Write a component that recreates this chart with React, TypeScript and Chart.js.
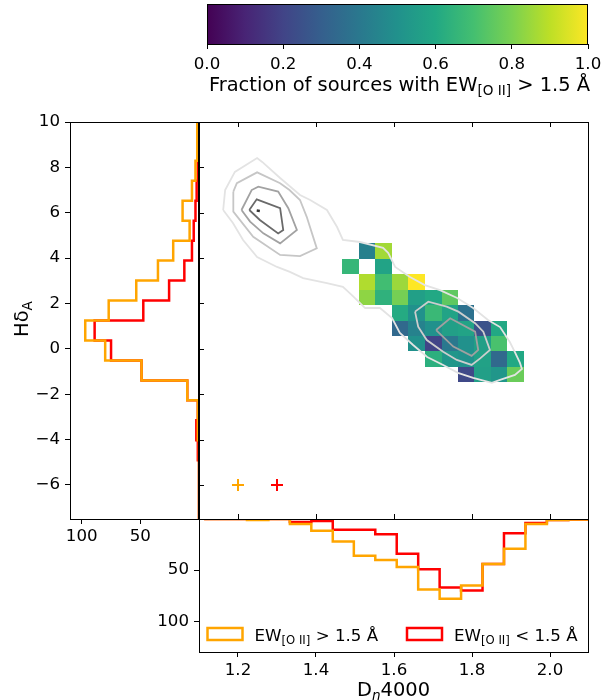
import React, { useEffect, useRef } from "react";
import { Chart, registerables } from "chart.js";

Chart.register(...registerables);

const W = 614;
const H = 700;
const FONT_FAMILY = "'DejaVu Sans', sans-serif";
const FONT_SIZE = 16.67;
const LABEL_SIZE = 19.44;
const COLOR_HIGH = "#ffa500";
const COLOR_LOW = "#ff0000";

// ---------- axes ----------
const dnLimits = [1.1, 2.1];
const hdLimits = [-7.5, 10];
const dnTicks = [1.2, 1.4, 1.6, 1.8, 2.0];
const hdTicks = [-6, -4, -2, 0, 2, 4, 6, 8, 10];
const leftCountTicks = [100, 50];
const leftCountMax = 110;
const bottomCountTicks = [50, 100];
const bottomCountMax = 130;
const cbarTicks = [0, 0.2, 0.4, 0.6, 0.8, 1.0];

// ---------- 1D histograms ----------
const hdEdges = [-7.55, -6.67, -5.79, -4.91, -4.03, -3.15, -2.27, -1.39, -0.51, 0.37, 1.25, 2.13, 3.01, 3.89, 4.77, 5.65, 6.53, 7.41, 8.29, 9.17, 10.05];
const hdCountsHigh = [0, 0, 0, 0, 1, 1, 10, 49, 80, 97, 77, 53.5, 35, 22, 8, 14, 6, 3, 1.5, 1.5];
const hdCountsLow = [0, 0, 0, 1, 2.3, 1, 10, 49, 75, 89, 47.5, 25.5, 12.5, 6, 4.5, 3, 2, 1, 1, 0.5];

const dnEdges = [1.113, 1.168, 1.223, 1.278, 1.333, 1.388, 1.443, 1.497, 1.552, 1.607, 1.662, 1.717, 1.772, 1.827, 1.882, 1.937, 1.992, 2.047, 2.102];
const dnCountsHigh = [0, 0, 1, 0, 5, 11.5, 22, 36, 40, 47, 69, 78, 65, 44, 29, 5, 1, 0.5];
const dnCountsLow = [0, 0, 0, 0, 3, 2, 10.5, 10.5, 15, 34, 49, 67, 70, 44, 14, 4, 1, 0.5];

// ---------- 2D fraction map ----------
const gridDnEdges = [1.467, 1.510, 1.552, 1.594, 1.637, 1.679, 1.722, 1.764, 1.806, 1.849, 1.891, 1.934];
const gridHdEdges = [4.653, 3.972, 3.291, 2.610, 1.929, 1.248, 0.567, -0.114, -0.795, -1.476];
const fractionGrid: (number | null)[][] = [
  [null, 0.43, 0.86, null, null, null, null, null, null, null, null],
  [0.66, null, 0.58, null, null, null, null, null, null, null, null],
  [null, 0.88, 0.69, 0.85, 1.0, null, null, null, null, null, null],
  [null, 0.83, 0.64, 0.79, 0.56, 0.6, 0.75, null, null, null, null],
  [null, null, null, 0.61, 0.5, 0.67, 0.58, 0.37, null, null, null],
  [null, null, null, 0.34, 0.44, 0.5, 0.56, 0.58, 0.25, 0.6, null],
  [null, null, null, null, 0.5, 0.2, 0.4, 0.5, 0.56, 0.71, null],
  [null, null, null, null, null, 0.63, 0.52, 0.5, 0.57, 0.34, 0.6],
  [null, null, null, null, null, null, null, 0.22, 0.56, 0.52, 0.77],
];

// ---------- density contours (Dn4000, HdA) ----------
const contourOuter = [
  [1.162, 6.12], [1.167, 7.0], [1.192, 7.8], [1.249, 8.41], [1.262, 8.24], [1.308, 7.53], [1.359, 6.78], [1.385, 6.56],
  [1.428, 6.12], [1.454, 5.37], [1.469, 4.8], [1.513, 4.71], [1.572, 4.45], [1.585, 4.23], [1.603, 3.61], [1.641, 3.17],
  [1.679, 2.81], [1.718, 2.59], [1.762, 2.24], [1.803, 1.8], [1.841, 1.27], [1.872, 0.96], [1.897, 0.3], [1.91, -0.14],
  [1.923, -0.62], [1.928, -0.89], [1.91, -1.15], [1.872, -1.37], [1.851, -1.5], [1.803, -1.28], [1.764, -1.06], [1.726, -0.71],
  [1.685, -0.36], [1.649, 0.17], [1.615, 0.7], [1.595, 1.36], [1.564, 1.8], [1.526, 1.8], [1.513, 2.02], [1.492, 2.37],
  [1.469, 2.73], [1.428, 2.9], [1.367, 3.12], [1.333, 3.39], [1.3, 3.61], [1.249, 4.05], [1.213, 4.8], [1.187, 5.55],
];
const contourTopLeft2 = [[1.188, 6.93], [1.197, 7.3], [1.249, 7.78], [1.308, 7.3], [1.332, 7.0], [1.359, 6.56], [1.376, 5.83], [1.402, 4.43], [1.359, 4.09], [1.308, 4.14], [1.239, 4.94], [1.188, 6.05]];
const contourTopLeft3 = [[1.209, 6.12], [1.235, 7.0], [1.252, 7.15], [1.303, 6.93], [1.329, 6.2], [1.351, 5.24], [1.308, 4.65], [1.265, 5.09], [1.231, 5.61]];
const contourTopLeft4 = [[1.229, 6.12], [1.248, 6.59], [1.308, 6.2], [1.316, 5.24], [1.303, 5.09], [1.256, 5.68]];
const contourTopLeft5 = [[1.248, 6.1], [1.256, 6.08]];
const contourRight2 = [[1.654, 1.64], [1.688, 2.08], [1.735, 1.86], [1.765, 1.64], [1.808, 1.13], [1.829, 0.76], [1.846, -0.05], [1.821, -0.42], [1.799, -0.71], [1.761, -0.49], [1.726, -0.13], [1.684, 0.39], [1.662, 0.98]];
const contourRight3 = [[1.708, 0.83], [1.744, 1.35], [1.808, 0.76], [1.816, -0.05], [1.799, -0.31], [1.752, 0.1]];

// typical-uncertainty crosses
const crossHigh = [{ x: 1.2, y: -6 }];
const crossLow = [{ x: 1.3, y: -6 }];

const legendRelations = [">", "<"];

const viridisStops = ["#440154", "#482475", "#414487", "#355f8d", "#2a788e", "#21918c", "#22a884", "#44bf70", "#7ad151", "#bddf26", "#fde725"];

function hexToRgb(h: string) {
  return [parseInt(h.slice(1, 3), 16), parseInt(h.slice(3, 5), 16), parseInt(h.slice(5, 7), 16)];
}
function viridis(t: number) {
  const v = Math.max(0, Math.min(1, t)) * (viridisStops.length - 1);
  const i = Math.min(Math.floor(v), viridisStops.length - 2);
  const f = v - i;
  const a = hexToRgb(viridisStops[i]);
  const b = hexToRgb(viridisStops[i + 1]);
  const c = a.map((ai, k) => Math.round(ai + (b[k] - ai) * f));
  return `rgb(${c[0]},${c[1]},${c[2]})`;
}

function stepAlongX(edges: number[], counts: number[]) {
  const pts = [{ x: edges[0], y: 0 }];
  counts.forEach((c, i) => {
    pts.push({ x: edges[i], y: c });
    pts.push({ x: edges[i + 1], y: c });
  });
  pts.push({ x: edges[edges.length - 1], y: 0 });
  return pts;
}
function stepAlongY(edges: number[], counts: number[]) {
  const pts = [{ x: 0, y: edges[0] }];
  counts.forEach((c, i) => {
    pts.push({ x: c, y: edges[i] });
    pts.push({ x: c, y: edges[i + 1] });
  });
  pts.push({ x: 0, y: edges[edges.length - 1] });
  return pts;
}
function closed(pts: number[][]) {
  const out = pts.map(([x, y]) => ({ x, y }));
  out.push({ x: pts[0][0], y: pts[0][1] });
  return out;
}

const fmtMinus = (v: number) => (v < 0 ? "\u2212" + Math.abs(v) : String(v));

const MAIN = { left: 199, top: 122, right: 589, bottom: 519 };
const LEFT = { left: 70, top: 122, right: 199, bottom: 519 };
const BOTTOM = { left: 199, top: 519, right: 589, bottom: 652 };
const CBAR = { left: 207, top: 4, right: 588, bottom: 44 };
// padding: when an axis sits on a side, the axis box itself takes that space
const pad = (r: any, leftAxis: boolean, bottomAxis: boolean) => ({
  left: leftAxis ? 0 : r.left,
  top: r.top,
  right: W - r.right,
  bottom: bottomAxis ? 0 : H - r.bottom,
});
const fixWidth = (w: number) => (s: any) => { s.width = w; };
const fixHeight = (h: number) => (s: any) => { s.height = h; };

const tickFont = { family: FONT_FAMILY, size: FONT_SIZE };
const baseOptions = {
  responsive: false,
  animation: false as const,
  devicePixelRatio: 1,
  plugins: { legend: { display: false }, tooltip: { enabled: false }, title: { display: false } },
  events: [] as any[],
};
const tickGrid = { display: true, drawOnChartArea: false, drawTicks: true, tickLength: 5, tickColor: "#000", tickWidth: 1, color: "#000" };
const setTicks = (vals: number[]) => (s: any) => { s.ticks = vals.map((v) => ({ value: v })); };

const framePlugin = {
  id: "frame",
  afterDatasetsDraw(chart: any) {
    const { ctx, chartArea: a } = chart;
    ctx.save();
    ctx.strokeStyle = "#000";
    ctx.lineWidth = 1;
    ctx.strokeRect(a.left + 0.5, a.top + 0.5, a.right - a.left - 1, a.bottom - a.top);
    ctx.restore();
  },
};

const cellsPlugin = {
  id: "cells",
  beforeDatasetsDraw(chart: any) {
    const { ctx } = chart;
    const xs = chart.scales.x;
    const ys = chart.scales.y;
    ctx.save();
    fractionGrid.forEach((row, j) =>
      row.forEach((f, i) => {
        if (f == null) return;
        const x0 = Math.round(xs.getPixelForValue(gridDnEdges[i]));
        const x1 = Math.round(xs.getPixelForValue(gridDnEdges[i + 1]));
        const y0 = Math.round(ys.getPixelForValue(gridHdEdges[j]));
        const y1 = Math.round(ys.getPixelForValue(gridHdEdges[j + 1]));
        ctx.fillStyle = viridis(f);
        ctx.fillRect(x0, y0, x1 - x0, y1 - y0);
      })
    );
    ctx.restore();
  },
};

const inwardTicksPlugin = {
  id: "inwardTicks",
  afterDatasetsDraw(chart: any) {
    const { ctx, chartArea: a } = chart;
    const xs = chart.scales.x;
    const ys = chart.scales.y;
    ctx.save();
    ctx.strokeStyle = "#000";
    ctx.lineWidth = 1;
    ctx.beginPath();
    dnTicks.forEach((v) => {
      const x = Math.round(xs.getPixelForValue(v)) + 0.5;
      ctx.moveTo(x, a.top);
      ctx.lineTo(x, a.top + 5);
      ctx.moveTo(x, a.bottom);
      ctx.lineTo(x, a.bottom - 5);
    });
    hdTicks.forEach((v) => {
      const y = Math.round(ys.getPixelForValue(v)) + 0.5;
      ctx.moveTo(a.left, y);
      ctx.lineTo(a.left + 5, y);
    });
    ctx.stroke();
    ctx.restore();
  },
};

const cbarPlugin = {
  id: "cbarGradient",
  beforeDatasetsDraw(chart: any) {
    const { ctx, chartArea: a } = chart;
    const g = ctx.createLinearGradient(a.left, 0, a.right, 0);
    viridisStops.forEach((c, i) => g.addColorStop(i / (viridisStops.length - 1), c));
    ctx.save();
    ctx.fillStyle = g;
    ctx.fillRect(a.left, a.top, a.right - a.left, a.bottom - a.top);
    ctx.restore();
  },
};

const legendPlugin = {
  id: "histLegend",
  afterDatasetsDraw(chart: any) {
    const { ctx, chartArea: a } = chart;
    const colors = [COLOR_HIGH, COLOR_LOW];
    const starts = [a.left + 8.5, a.left + 208];
    const baseY = a.bottom - 11.5;
    ctx.save();
    legendRelations.forEach((rel, k) => {
      const x0 = starts[k];
      ctx.strokeStyle = colors[k];
      ctx.lineWidth = 2.5;
      ctx.strokeRect(x0, a.bottom - 24, 35, 12);
      ctx.fillStyle = "#000";
      ctx.textAlign = "left";
      ctx.textBaseline = "alphabetic";
      let tx = x0 + 47;
      ctx.font = `${FONT_SIZE}px ${FONT_FAMILY}`;
      ctx.fillText("EW", tx, baseY);
      tx += ctx.measureText("EW").width;
      ctx.font = `${FONT_SIZE * 0.7}px ${FONT_FAMILY}`;
      ctx.fillText("[O II]", tx, baseY + 3.5);
      tx += ctx.measureText("[O II]").width;
      ctx.font = `${FONT_SIZE}px ${FONT_FAMILY}`;
      ctx.fillText(` ${rel} 1.5 \u00c5`, tx, baseY);
    });
    ctx.restore();
  },
};

function lineDs(data: any[], color: string, width: number) {
  return { data, showLine: true, borderColor: color, borderWidth: width, pointRadius: 0, fill: false, tension: 0 };
}

export default function App() {
  const cbRef = useRef<HTMLCanvasElement>(null);
  const mainRef = useRef<HTMLCanvasElement>(null);
  const bottomRef = useRef<HTMLCanvasElement>(null);
  const leftRef = useRef<HTMLCanvasElement>(null);

  useEffect(() => {
    Chart.defaults.font.family = FONT_FAMILY;
    const charts: Chart[] = [];

    charts.push(
      new Chart(cbRef.current!, {
        type: "scatter",
        data: { datasets: [] },
        options: {
          ...baseOptions,
          layout: { padding: pad(CBAR, false, true) },
          scales: {
            x: {
              type: "linear", min: 0, max: 1, position: "bottom",
              afterFit: fixHeight(H - CBAR.bottom), afterBuildTicks: setTicks(cbarTicks),
              ticks: { font: tickFont, color: "#000", padding: 6, maxRotation: 0, autoSkip: false, callback: (v: any) => Number(v).toFixed(1) },
              grid: tickGrid, border: { display: false },
            },
            y: { display: false, min: 0, max: 1 },
          },
        } as any,
        plugins: [cbarPlugin, framePlugin],
      })
    );

    charts.push(
      new Chart(mainRef.current!, {
        type: "scatter",
        data: {
          datasets: [
            lineDs(closed(contourOuter), "#e3e3e3", 1.8),
            lineDs(closed(contourTopLeft2), "#c6c6c6", 1.8),
            lineDs(closed(contourRight2), "#cdcdcd", 1.8),
            lineDs(closed(contourTopLeft3), "#a2a2a2", 1.8),
            lineDs(closed(contourRight3), "#a0a0a0", 1.8),
            lineDs(closed(contourTopLeft4), "#6a6a6a", 1.8),
            lineDs(closed(contourTopLeft5), "#333333", 2.5),
            { data: crossHigh, pointStyle: "cross", pointRadius: 6, borderColor: COLOR_HIGH, borderWidth: 2, backgroundColor: COLOR_HIGH },
            { data: crossLow, pointStyle: "cross", pointRadius: 6, borderColor: COLOR_LOW, borderWidth: 2, backgroundColor: COLOR_LOW },
          ] as any,
        },
        options: {
          ...baseOptions,
          layout: { padding: pad(MAIN, false, false) },
          scales: {
            x: { type: "linear", min: dnLimits[0], max: dnLimits[1], display: false },
            y: { type: "linear", min: hdLimits[0], max: hdLimits[1], display: false },
          },
        } as any,
        plugins: [cellsPlugin, inwardTicksPlugin, framePlugin],
      })
    );

    charts.push(
      new Chart(bottomRef.current!, {
        type: "scatter",
        data: {
          datasets: [
            lineDs(stepAlongX(dnEdges, dnCountsHigh), COLOR_HIGH, 2.5),
            lineDs(stepAlongX(dnEdges, dnCountsLow), COLOR_LOW, 2.5),
          ] as any,
        },
        options: {
          ...baseOptions,
          layout: { padding: pad(BOTTOM, true, true) },
          scales: {
            x: {
              type: "linear", min: dnLimits[0], max: dnLimits[1], position: "bottom",
              afterFit: fixHeight(H - BOTTOM.bottom), afterBuildTicks: setTicks(dnTicks),
              ticks: { font: tickFont, color: "#000", padding: 4, maxRotation: 0, autoSkip: false, callback: (v: any) => Number(v).toFixed(1) },
              grid: tickGrid, border: { display: false },
            },
            y: {
              type: "linear", min: 0, max: bottomCountMax, reverse: true, position: "left",
              afterFit: fixWidth(BOTTOM.left), afterBuildTicks: setTicks(bottomCountTicks),
              ticks: { font: tickFont, color: "#000", padding: 5, autoSkip: false, callback: (v: any) => String(v) },
              grid: tickGrid, border: { display: false },
            },
          },
        } as any,
        plugins: [framePlugin, legendPlugin],
      })
    );

    charts.push(
      new Chart(leftRef.current!, {
        type: "scatter",
        data: {
          datasets: [
            lineDs(stepAlongY(hdEdges, hdCountsHigh), COLOR_HIGH, 2.5),
            lineDs(stepAlongY(hdEdges, hdCountsLow), COLOR_LOW, 2.5),
          ] as any,
        },
        options: {
          ...baseOptions,
          layout: { padding: pad(LEFT, true, true) },
          scales: {
            x: {
              type: "linear", min: 0, max: leftCountMax, reverse: true, position: "bottom",
              afterFit: fixHeight(H - LEFT.bottom), afterBuildTicks: setTicks(leftCountTicks),
              ticks: { font: tickFont, color: "#000", padding: 3, maxRotation: 0, autoSkip: false, callback: (v: any) => String(v) },
              grid: tickGrid, border: { display: false },
            },
            y: {
              type: "linear", min: hdLimits[0], max: hdLimits[1], position: "left",
              afterFit: fixWidth(LEFT.left), afterBuildTicks: setTicks(hdTicks),
              ticks: { font: tickFont, color: "#000", padding: 5, autoSkip: false, callback: (v: any) => fmtMinus(Number(v)) },
              grid: tickGrid, border: { display: false },
            },
          },
        } as any,
        plugins: [framePlugin],
      })
    );

    return () => charts.forEach((c) => c.destroy());
  }, []);

  const cv: React.CSSProperties = { position: "absolute", left: 0, top: 0, width: W, height: H };
  const sub: React.CSSProperties = { fontSize: "0.7em", position: "relative", top: "4px", lineHeight: 0 };
  const label: React.CSSProperties = { position: "absolute", fontSize: LABEL_SIZE, lineHeight: "24px", whiteSpace: "nowrap", textAlign: "center", color: "#000" };

  return (
    <div style={{ position: "absolute", left: 0, top: 0, width: W, height: H, background: "#fff", overflow: "hidden", fontFamily: FONT_FAMILY }}>
      <canvas ref={cbRef} width={W} height={H} style={cv} />
      <canvas ref={mainRef} width={W} height={H} style={cv} />
      <canvas ref={bottomRef} width={W} height={H} style={cv} />
      <canvas ref={leftRef} width={W} height={H} style={cv} />
      <div style={{ ...label, left: 199.5, top: 73, width: 400 }}>
        Fraction of sources with EW<span style={sub}>[O II]</span> &gt; 1.5 Å
      </div>
      <div style={{ ...label, left: 293.5, top: 678, width: 200 }}>
        D<span style={{ ...sub, fontStyle: "italic" }}>n</span>4000
      </div>
      <div style={{ ...label, left: -28, top: 307, width: 100, height: 24, transform: "rotate(-90deg)" }}>
        Hδ<span style={sub}>A</span>
      </div>
    </div>
  );
}
